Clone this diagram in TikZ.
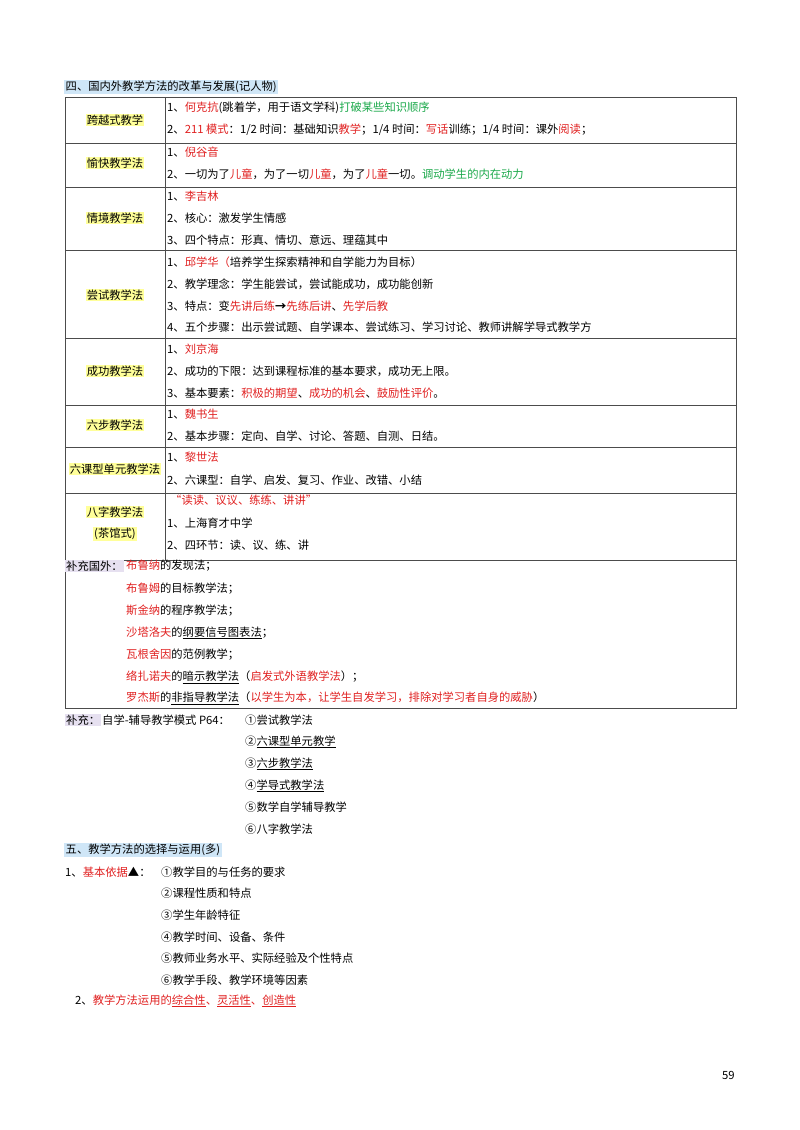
\documentclass[tikz,border=0pt]{standalone}
\usepackage{fontspec}
\setmainfont{Noto Sans CJK SC}
\usetikzlibrary{positioning}
\definecolor{hlred}{HTML}{E02020}
\definecolor{hlgreen}{HTML}{1AA84A}
\definecolor{hlyellow}{HTML}{FFFF99}
\definecolor{hlblue}{HTML}{CFE6F7}
\definecolor{hlgray}{HTML}{E6E0F0}
\newcommand{\rd}[1]{\textcolor{hlred}{#1}}
\newcommand{\gn}[1]{\textcolor{hlgreen}{#1}}
\begin{document}
\begin{tikzpicture}[
    x = 1pt, y = -1pt,
    txt/.style = {anchor=west, inner sep=0pt, font=\fontsize{11.3}{12}\selectfont},
    lab/.style = {inner sep=1pt, fill=hlyellow, font=\fontsize{11.3}{12}\selectfont},
    head/.style = {anchor=west, inner sep=1.5pt, fill=hlblue, font=\fontsize{11.3}{12}\selectfont},
    rule/.style = {draw=black!70, line width=0.6pt}
    ]
    \useasboundingbox (0,0) rectangle (800,1130);

    % heading
    \node[head] (h4) at (64,87) {四、国内外教学方法的改革与发展(记人物)};

    % table frame
    \draw[rule] (65,97) rectangle (736,708);
    \draw[rule] (165,97) -- (165,560);
    \foreach \yy in {143,187,250,338,405,447,493,560}
        \draw[rule] (65,\yy) -- (736,\yy);

    % left column
    \node[lab] (m1) at (115,120) {跨越式教学};
    \node[lab] (m2) at (115,163) {愉快教学法};
    \node[lab] (m3) at (115,218) {情境教学法};
    \node[lab] (m4) at (115,295) {尝试教学法};
    \node[lab] (m5) at (115,371) {成功教学法};
    \node[lab] (m6) at (115,425) {六步教学法};
    \node[lab] (m7) at (115,469) {六课型单元教学法};
    \node[lab] (m8) at (115,512) {八字教学法};
    \node[lab] (m8b) at (115,534) {(茶馆式)};

    % right column
    \node[txt] (a1) at (167,108) {1、\rd{何克抗}(跳着学，用于语文学科)\gn{打破某些知识顺序}};
    \node[txt] (a2) at (167,130) {2、\rd{211 模式}：1/2 时间：基础知识\rd{教学}；1/4 时间：\rd{写话}训练；1/4 时间：课外\rd{阅读}；};
    \node[txt] (b1) at (167,152) {1、\rd{倪谷音}};
    \node[txt] (b2) at (167,174) {2、一切为了\rd{儿童}，为了一切\rd{儿童}，为了\rd{儿童}一切。\gn{调动学生的内在动力}};
    \node[txt] (c1) at (167,196) {1、\rd{李吉林}};
    \node[txt] (c2) at (167,218) {2、核心：激发学生情感};
    \node[txt] (c3) at (167,240) {3、四个特点：形真、情切、意远、理蕴其中};
    \node[txt] (d1) at (167,262) {1、\rd{邱学华（}培养学生探索精神和自学能力为目标）};
    \node[txt] (d2) at (167,284) {2、教学理念：学生能尝试，尝试能成功，成功能创新};
    \node[txt] (d3) at (167,306) {3、特点：变\rd{先讲后练}\textbf{→}\rd{先练后讲}、\rd{先学后教}};
    \node[txt] (d4) at (167,327) {4、五个步骤：出示尝试题、自学课本、尝试练习、学习讨论、教师讲解学导式教学方};
    \node[txt] (e1) at (167,349) {1、\rd{刘京海}};
    \node[txt] (e2) at (167,371) {2、成功的下限：达到课程标准的基本要求，成功无上限。};
    \node[txt] (e3) at (167,393) {3、基本要素：\rd{积极的期望}、\rd{成功的机会}、\rd{鼓励性评价}。};
    \node[txt] (f1) at (167,414) {1、\rd{魏书生}};
    \node[txt] (f2) at (167,436) {2、基本步骤：定向、自学、讨论、答题、自测、日结。};
    \node[txt] (g1) at (167,457) {1、\rd{黎世法}};
    \node[txt] (g2) at (167,480) {2、六课型：自学、启发、复习、作业、改错、小结};
    \node[txt] (k0) at (170,500) {\rd{“读读、议议、练练、讲讲”}};
    \node[txt] (k1) at (167,523) {1、上海育才中学};
    \node[txt] (k2) at (167,545) {2、四环节：读、议、练、讲};

    % supplement in the box
    \node[txt,fill=hlgray,inner sep=1pt] (s0) at (65,566) {补充国外：};
    \node[txt] (s1) at (126,566) {\rd{布鲁纳}的发现法；};
    \node[txt] (s2) at (126,589) {\rd{布鲁姆}的目标教学法；};
    \node[txt] (s3) at (126,611) {\rd{斯金纳}的程序教学法；};
    \node[txt] (s4) at (126,633) {\rd{沙塔洛夫}的\underline{纲要信号图表法}；};
    \node[txt] (s5) at (126,655) {\rd{瓦根舍因}的范例教学；};
    \node[txt] (s6) at (126,677) {\rd{络扎诺夫}的\underline{暗示教学法}（\rd{启发式外语教学法}）；};
    \node[txt] (s7) at (126,698) {\rd{罗杰斯}的\underline{非指导教学法}（\rd{以学生为本，让学生自发学习，排除对学习者自身的威胁}）};

    % supplement below
    \node[txt,fill=hlgray,inner sep=1pt] (t0) at (65,720) {补充：};
    \node[txt] (t1) at (102,720) {自学-辅导教学模式 P64：};
    \node[txt] (u1) at (245,720) {①尝试教学法};
    \node[txt] (u2) at (245,742) {②\underline{六课型单元教学}};
    \node[txt] (u3) at (245,764) {③\underline{六步教学法}};
    \node[txt] (u4) at (245,786) {④\underline{学导式教学法}};
    \node[txt] (u5) at (245,807) {⑤数学自学辅导教学};
    \node[txt] (u6) at (245,829) {⑥八字教学法};

    % section five
    \node[head] (h5) at (64,850) {五、教学方法的选择与运用(多)};
    \node[txt] (p0) at (65,872) {1、\rd{基本依据}\textbf{▲}：};
    \node[txt] (p1) at (161,872) {①教学目的与任务的要求};
    \node[txt] (p2) at (161,893) {②课程性质和特点};
    \node[txt] (p3) at (161,915) {③学生年龄特征};
    \node[txt] (p4) at (161,937) {④教学时间、设备、条件};
    \node[txt] (p5) at (161,958) {⑤教师业务水平、实际经验及个性特点};
    \node[txt] (p6) at (161,980) {⑥教学手段、教学环境等因素};
    \node[txt] (q0) at (75,1001) {2、\rd{教学方法运用的\underline{综合性}、\underline{灵活性}、\underline{创造性}}};

    \node[txt] (pg) at (722,1075) {59};
\end{tikzpicture}
\end{document}
